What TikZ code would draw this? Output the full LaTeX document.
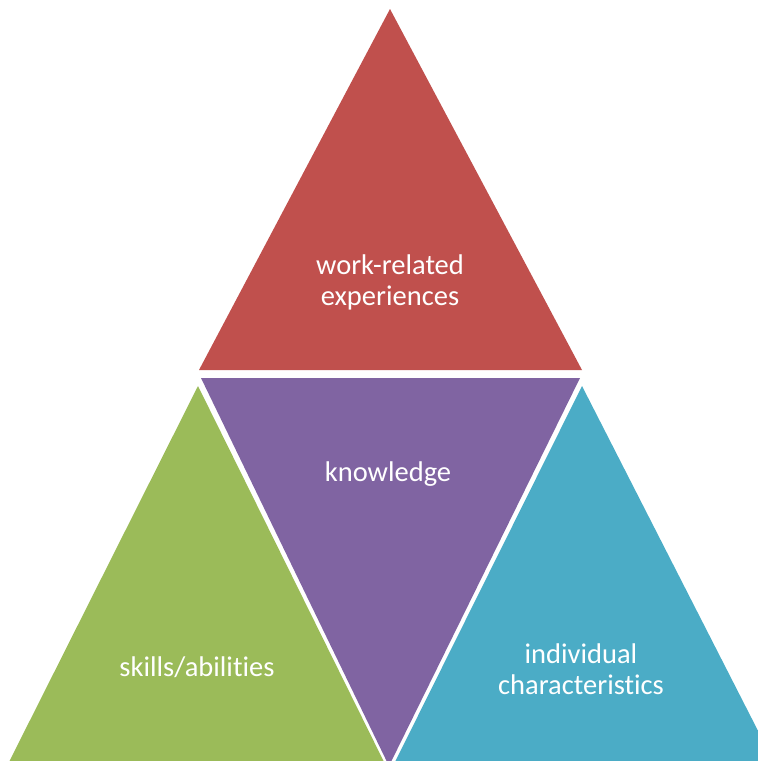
\documentclass[tikz,border=0pt]{standalone}
\usepackage{fontspec}
\setmainfont[Ligatures={NoCommon}]{Carlito}
\definecolor{cred}{HTML}{C0504D}
\definecolor{cpurple}{HTML}{8064A2}
\definecolor{cgreen}{HTML}{9BBB59}
\definecolor{cblue}{HTML}{4BACC6}
\begin{document}
\begin{tikzpicture}[x=1pt,y=-1pt,
  lbl/.style={text=white,align=center,font=\fontsize{28.5}{31}\selectfont,inner sep=0pt}]
\useasboundingbox (0,0) rectangle (758,761);
\clip (0,0) rectangle (758,761);
\fill[cred] (390,9) -- (199,370) -- (582,370) -- cycle;
\fill[cpurple] (201,378) -- (580,378) -- (389,766) -- cycle;
\fill[cgreen] (198,386) -- (386,766) -- (7,766) -- cycle;
\fill[cblue] (582,386) -- (776,766) -- (393,766) -- cycle;
\node[lbl] (work) at (390,282) {work-related\\experiences};
\node[lbl] (know) at (388,474) {knowledge};
\node[lbl] (skill) at (197,667) {skills/abilities};
\node[lbl] (indiv) at (581,669) {individual\\characteristics};
\end{tikzpicture}
\end{document}
